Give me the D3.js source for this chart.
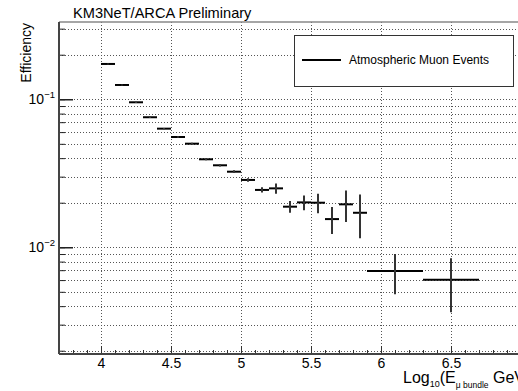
<!DOCTYPE html>
<html>
<head>
<meta charset="utf-8">
<script src="https://cdn.jsdelivr.net/npm/d3@7"></script>
<style>
  body { margin: 0; background: #fff; }
  text { font-family: "Liberation Sans", Arial, sans-serif; fill: #000; }
</style>
</head>
<body>
<div id="chart"></div>
<script>
// bins in log10(E) and the measured efficiency with its error
var binLo = [4.0, 4.1, 4.2, 4.3, 4.4, 4.5, 4.6, 4.7, 4.8, 4.9, 5.0, 5.1, 5.2, 5.3, 5.4, 5.5, 5.6, 5.7, 5.8, 5.9, 6.3];
var binHi = [4.1, 4.2, 4.3, 4.4, 4.5, 4.6, 4.7, 4.8, 4.9, 5.0, 5.1, 5.2, 5.3, 5.4, 5.5, 5.6, 5.7, 5.8, 5.9, 6.3, 6.7];
var eff   = [0.1732, 0.1249, 0.0954, 0.0756, 0.0633, 0.0556, 0.0501, 0.0393, 0.0358, 0.0324, 0.0285,
             0.0244, 0.0250, 0.0188, 0.0201, 0.0200, 0.0155, 0.0195, 0.0171, 0.00692, 0.00604];
var effErr = [0.0015, 0.0011, 0.0009, 0.0008, 0.0007, 0.0007, 0.0007, 0.0006, 0.0007, 0.0007, 0.0008,
              0.0010, 0.0020, 0.0017, 0.0023, 0.0030, 0.0032, 0.0047, 0.0056, 0.0021, 0.0024];

var xMajor = [4, 4.5, 5, 5.5, 6, 6.5, 7];
var xLabelled = [4, 4.5, 5, 5.5, 6, 6.5];
var yLabelled = [0.1, 0.01];

var svgWidth = 518;
var svgHeight = 391;
var margin = {top: 22, right: -3, bottom: 37, left: 59};

var svg = d3.select("#chart").append("svg")
  .attr("width", svgWidth)
  .attr("height", svgHeight);

var x = d3.scaleLinear().domain([3.7, 7.0]).range([margin.left, svgWidth - margin.right]);
var y = d3.scaleLog().domain([0.0019, 0.3327]).range([svgHeight - margin.bottom, margin.top]);

var x0 = margin.left, x1 = svgWidth - margin.right;
var yTop = margin.top, yBot = svgHeight - margin.bottom;

// minor ticks / gridline values
var xMinor = d3.range(37, 71).map(d => d / 10);
var yTicks = [];
[0.001, 0.01, 0.1].forEach(function(dec) {
  for (var k = 1; k <= 9; k++) {
    var v = k * dec;
    if (v >= 0.0019 && v <= 0.3327) yTicks.push(v);
  }
});

// grid
var grid = svg.append("g")
  .attr("stroke", "#555")
  .attr("stroke-width", 1)
  .attr("stroke-dasharray", "1,2");

grid.selectAll("line.gx")
  .data(xMajor)
  .enter().append("line")
  .attr("x1", d => Math.round(x(d)) + 0.5)
  .attr("x2", d => Math.round(x(d)) + 0.5)
  .attr("y1", yTop)
  .attr("y2", yBot);

grid.selectAll("line.gy")
  .data(yTicks)
  .enter().append("line")
  .attr("x1", x0)
  .attr("x2", x1)
  .attr("y1", d => Math.round(y(d)) + 0.5)
  .attr("y2", d => Math.round(y(d)) + 0.5);

// frame
svg.append("line")
  .attr("x1", x0).attr("x2", x1).attr("y1", yTop).attr("y2", yTop)
  .attr("stroke", "#888").attr("stroke-width", 1.5);

// x axis ticks
svg.append("g")
  .attr("transform", `translate(0, ${yBot})`)
  .call(d3.axisBottom(x).tickValues(xMinor).tickSize(-4).tickFormat(""))
  .call(g => g.select(".domain").remove())
  .selectAll("line").attr("stroke", "#333");

svg.append("g")
  .attr("transform", `translate(0, ${yBot})`)
  .call(d3.axisBottom(x).tickValues(xMajor).tickSize(-8).tickFormat(""))
  .call(g => g.select(".domain").remove())
  .selectAll("line").attr("stroke", "#333");

var xAxis = svg.append("g")
  .attr("transform", `translate(0, ${yBot})`)
  .call(d3.axisBottom(x).tickValues(xLabelled).tickSize(0).tickPadding(4).tickFormat(d3.format("")));
xAxis.select(".domain").remove();
xAxis.selectAll("text")
  .style("font-size", "14px")
  .style("font-family", "Liberation Sans, Arial, sans-serif")
  .attr("fill", "#000");

// y axis ticks
svg.append("g")
  .attr("transform", `translate(${x0}, 0)`)
  .call(d3.axisLeft(y).tickValues(yTicks).tickSize(-6).tickFormat(""))
  .call(g => g.select(".domain").remove())
  .selectAll("line").attr("stroke", "#222");

svg.append("g")
  .attr("transform", `translate(${x0}, 0)`)
  .call(d3.axisLeft(y).tickValues(yLabelled).tickSize(-14).tickFormat(""))
  .call(g => g.select(".domain").remove())
  .selectAll("line").attr("stroke", "#222").attr("stroke-width", 1.5);

var yLab = svg.selectAll("text.ylab")
  .data(yLabelled)
  .enter().append("text")
  .attr("class", "ylab")
  .attr("x", 55)
  .attr("y", d => y(d) + 5)
  .attr("text-anchor", "end")
  .style("font-size", "14px");
yLab.append("tspan").text("10");
yLab.append("tspan")
  .attr("dy", -6)
  .style("font-size", "9.5px")
  .text(d => "\u2212" + Math.round(-Math.log10(d)));

// axis lines
svg.append("line")
  .attr("x1", x0).attr("x2", x0).attr("y1", yTop).attr("y2", yBot)
  .attr("stroke", "#444").attr("stroke-width", 2);
svg.append("line")
  .attr("x1", x0).attr("x2", x1).attr("y1", yBot).attr("y2", yBot)
  .attr("stroke", "#444").attr("stroke-width", 2);

// data points with error bars
var pts = d3.range(eff.length);
var marks = svg.append("g").attr("stroke", "#000").attr("stroke-width", 2);

marks.selectAll("line.h")
  .data(pts)
  .enter().append("line")
  .attr("x1", i => x(binLo[i]))
  .attr("x2", i => x(binHi[i]))
  .attr("y1", i => y(eff[i]))
  .attr("y2", i => y(eff[i]));

marks.selectAll("line.v")
  .data(pts)
  .enter().append("line")
  .attr("stroke", "#333")
  .attr("x1", i => x((binLo[i] + binHi[i]) / 2))
  .attr("x2", i => x((binLo[i] + binHi[i]) / 2))
  .attr("y1", i => y(eff[i] - effErr[i]))
  .attr("y2", i => y(eff[i] + effErr[i]));

// legend
svg.append("rect")
  .attr("x", 294.5).attr("y", 35.5)
  .attr("width", 219).attr("height", 51)
  .attr("fill", "#fff")
  .attr("stroke", "#333");
svg.append("line")
  .attr("x1", 302).attr("x2", 341).attr("y1", 60).attr("y2", 60)
  .attr("stroke", "#000").attr("stroke-width", 2);
svg.append("text")
  .attr("x", 349).attr("y", 64)
  .style("font-size", "12px")
  .text("Atmospheric Muon Events");

// titles
svg.append("text")
  .attr("x", 73).attr("y", 18)
  .style("font-size", "14.6px")
  .text("KM3NeT/ARCA Preliminary");

svg.append("text")
  .attr("transform", "translate(31, 23) rotate(-90)")
  .attr("text-anchor", "end")
  .style("font-size", "14px")
  .text("Efficiency");

var xt = svg.append("text")
  .attr("x", 403).attr("y", 383)
  .style("font-size", "16px");
xt.append("tspan").text("Log");
xt.append("tspan").attr("dy", 4).style("font-size", "9px").text("10");
xt.append("tspan").attr("dy", -4).text("(E");
xt.append("tspan").attr("dy", 5).style("font-size", "8.5px").text("\u03bc bundle");
xt.append("tspan").attr("dy", -5).text(" GeV)");
</script>
</body>
</html>
